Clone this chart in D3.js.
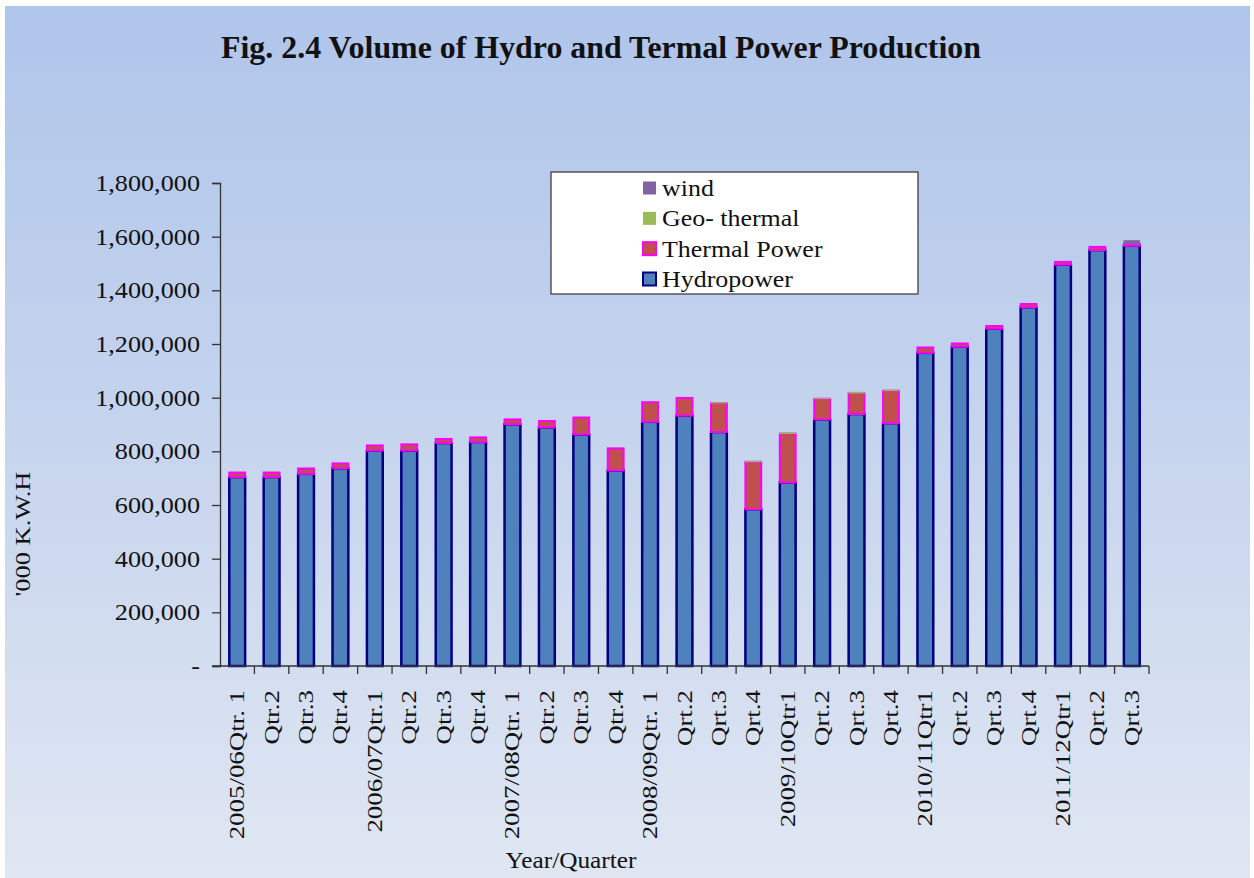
<!DOCTYPE html>
<html>
<head>
<meta charset="utf-8">
<script src="https://cdn.jsdelivr.net/npm/d3@7"></script>
<style>
  html, body { margin: 0; padding: 0; background: #ffffff; }
  svg { display: block; }
  text { font-family: "Liberation Serif", "Times New Roman", serif; fill: #111; }
</style>
</head>
<body>
<svg id="chart" width="1254" height="878"></svg>
<script>
// ---- data ----
const categories = [
  "2005/06Qtr. 1", "Qtr.2", "Qtr.3", "Qtr.4",
  "2006/07Qtr.1", "Qtr.2", "Qtr.3", "Qtr.4",
  "2007/08Qtr. 1", "Qtr.2", "Qtr.3", "Qtr.4",
  "2008/09Qtr. 1", "Qrt.2", "Qrt.3", "Qrt.4",
  "2009/10Qtr1", "Qrt.2", "Qrt.3", "Qrt.4",
  "2010/11Qtr1", "Qrt.2", "Qrt.3", "Qrt.4",
  "2011/12Qtr1", "Qrt.2", "Qrt.3"
];
const hydropower = [
  704000, 704000, 716000, 737000,
  803000, 803000, 831000, 835000,
  901000, 889000, 863000, 729000,
  910000, 933000, 872000, 584000,
  684000, 919000, 939000, 905000,
  1167000, 1190000, 1257000, 1337000,
  1496000, 1550000, 1566000
];
const thermalPower = [
  17000, 17000, 20000, 18000,
  19000, 23000, 15000, 17000,
  18000, 24000, 63000, 82000,
  73000, 66000, 108000, 177000,
  182000, 77000, 78000, 121000,
  20000, 12000, 10000, 12000,
  10000, 12000, 7000
];
const geoThermal = [
  0, 0, 0, 0,
  0, 0, 0, 0,
  0, 0, 0, 0,
  0, 0, 1500, 2000,
  3000, 1000, 3500, 3000,
  0, 0, 0, 0,
  0, 0, 0
];
const wind = [
  0, 0, 0, 0,
  0, 0, 0, 0,
  0, 0, 0, 0,
  0, 0, 0, 0,
  0, 0, 0, 0,
  0, 0, 0, 0,
  0, 0, 12000
];
const seriesNames = ["Hydropower", "Thermal Power", "Geo- thermal", "wind"];
const yTicks = [0, 200000, 400000, 600000, 800000, 1000000, 1200000, 1400000, 1600000, 1800000];

const styles = {
  "Hydropower":   { fill: "#4f81bd", stroke: "#000080", sw: 2.5 },
  "Thermal Power":{ fill: "#c0504d", stroke: "#ff00ff", sw: 2 },
  "Geo- thermal": { fill: "#9bbb59", stroke: "#9bbb59", sw: 0.8 },
  "wind":         { fill: "#8064a2", stroke: "#8064a2", sw: 0.8 }
};

const table = categories.map((c, i) => ({
  idx: i,
  cat: c,
  "Hydropower": hydropower[i],
  "Thermal Power": thermalPower[i],
  "Geo- thermal": geoThermal[i],
  "wind": wind[i]
}));

// ---- layout ----
const svg = d3.select("#chart");
const W = 1254, H = 878;
const plot = { left: 220, right: 1149, top: 183, bottom: 666 };

const defs = svg.append("defs");
const grad = defs.append("linearGradient").attr("id", "bg").attr("x1", 0).attr("y1", 0).attr("x2", 0).attr("y2", 1);
grad.append("stop").attr("offset", "0%").attr("stop-color", "#afc5ea");
grad.append("stop").attr("offset", "55%").attr("stop-color", "#c9d6ee");
grad.append("stop").attr("offset", "100%").attr("stop-color", "#e0e7f3");
svg.append("rect").attr("x", 5).attr("y", 6).attr("width", W - 9).attr("height", H - 6).attr("fill", "url(#bg)");

const x = d3.scaleBand().domain(d3.range(categories.length)).range([plot.left, plot.right]).paddingInner(0.54).paddingOuter(0.27);
const y = d3.scaleLinear().domain([0, 1800000]).range([plot.bottom, plot.top]);

// bars
const stack = d3.stack().keys(seriesNames)(table);
const layers = svg.append("g").selectAll("g").data(stack).join("g")
  .attr("fill", d => styles[d.key].fill)
  .attr("stroke", d => styles[d.key].stroke)
  .attr("stroke-width", d => styles[d.key].sw);
layers.selectAll("rect").data(d => d.filter(s => s[1] - s[0] > 0)).join("rect")
  .attr("x", d => x(d.data.idx))
  .attr("width", x.bandwidth())
  .attr("y", d => y(d[1]))
  .attr("height", d => y(d[0]) - y(d[1]));

function stretch(sel, f) {
  sel.each(function () {
    const w = this.getComputedTextLength();
    d3.select(this).attr("textLength", w * f).attr("lengthAdjust", "spacingAndGlyphs");
  });
}

// y axis
const yAxis = d3.axisLeft(y).tickValues(yTicks).tickSize(8).tickPadding(12)
  .tickFormat(d => d === 0 ? "-" : d3.format(",")(d));
const gy = svg.append("g").attr("transform", `translate(${plot.left},0)`).call(yAxis);
gy.select(".domain").attr("stroke", "#333").attr("stroke-width", 1.3);
gy.selectAll(".tick line").attr("stroke", "#333").attr("stroke-width", 1.3);
const ytxt = gy.selectAll(".tick text")
  .style("font-family", "'Liberation Serif', serif").style("font-size", "23px").attr("fill", "#111");
stretch(ytxt, 1.14);

// x axis
const gx = svg.append("g").attr("transform", `translate(0,${plot.bottom})`);
gx.append("line").attr("x1", plot.left - 8).attr("x2", plot.right).attr("y1", 0).attr("y2", 0)
  .attr("stroke", "#333").attr("stroke-width", 1.3);
const step = x.step();
gx.selectAll("line.tk").data(d3.range(1, categories.length + 1)).join("line").attr("class", "tk")
  .attr("x1", i => plot.left + i * step).attr("x2", i => plot.left + i * step)
  .attr("y1", 0).attr("y2", 8).attr("stroke", "#333").attr("stroke-width", 1.3);
const xtxt = gx.selectAll("text.xl").data(table).join("text").attr("class", "xl")
  .attr("transform", d => `translate(${x(d.idx) + x.bandwidth() / 2 + 7},${24}) rotate(-90)`)
  .attr("text-anchor", "end")
  .style("font-size", "21px")
  .text(d => d.cat);
stretch(xtxt, 1.28);

// axis titles
const xt = svg.append("text").attr("x", 571).attr("y", 868).attr("text-anchor", "middle")
  .style("font-size", "23px").text("Year/Quarter");
stretch(xt, 1.1);
const yt = svg.append("text").attr("transform", "translate(30,534) rotate(-90)").attr("text-anchor", "middle")
  .style("font-size", "22px").text("'000 K.W.H");
stretch(yt, 1.2);

// title
svg.append("text").attr("x", 601).attr("y", 58).attr("text-anchor", "middle")
  .style("font-size", "32px").style("font-weight", "bold")
  .attr("textLength", 760).attr("lengthAdjust", "spacingAndGlyphs")
  .text("Fig. 2.4 Volume of Hydro and Termal Power Production");

// legend
const lg = svg.append("g");
lg.append("rect").attr("x", 551).attr("y", 172).attr("width", 367).attr("height", 122)
  .attr("fill", "#ffffff").attr("stroke", "#404040").attr("stroke-width", 1.3);
const legendOrder = seriesNames.slice().reverse();
const rowY = d3.scalePoint().domain(legendOrder).range([188, 279]);
const items = lg.selectAll("g.li").data(legendOrder).join("g").attr("class", "li")
  .attr("transform", d => `translate(643,${rowY(d)})`);
items.append("rect").attr("x", 0).attr("y", -6.5).attr("width", 13).attr("height", 13)
  .attr("fill", d => styles[d].fill)
  .attr("stroke", d => (d === "Hydropower" || d === "Thermal Power") ? styles[d].stroke : "none")
  .attr("stroke-width", 2);
const ltxt = items.append("text").attr("x", 19).attr("y", 8).style("font-size", "24px").text(d => d);
stretch(ltxt, 1.08);
</script>
</body>
</html>
